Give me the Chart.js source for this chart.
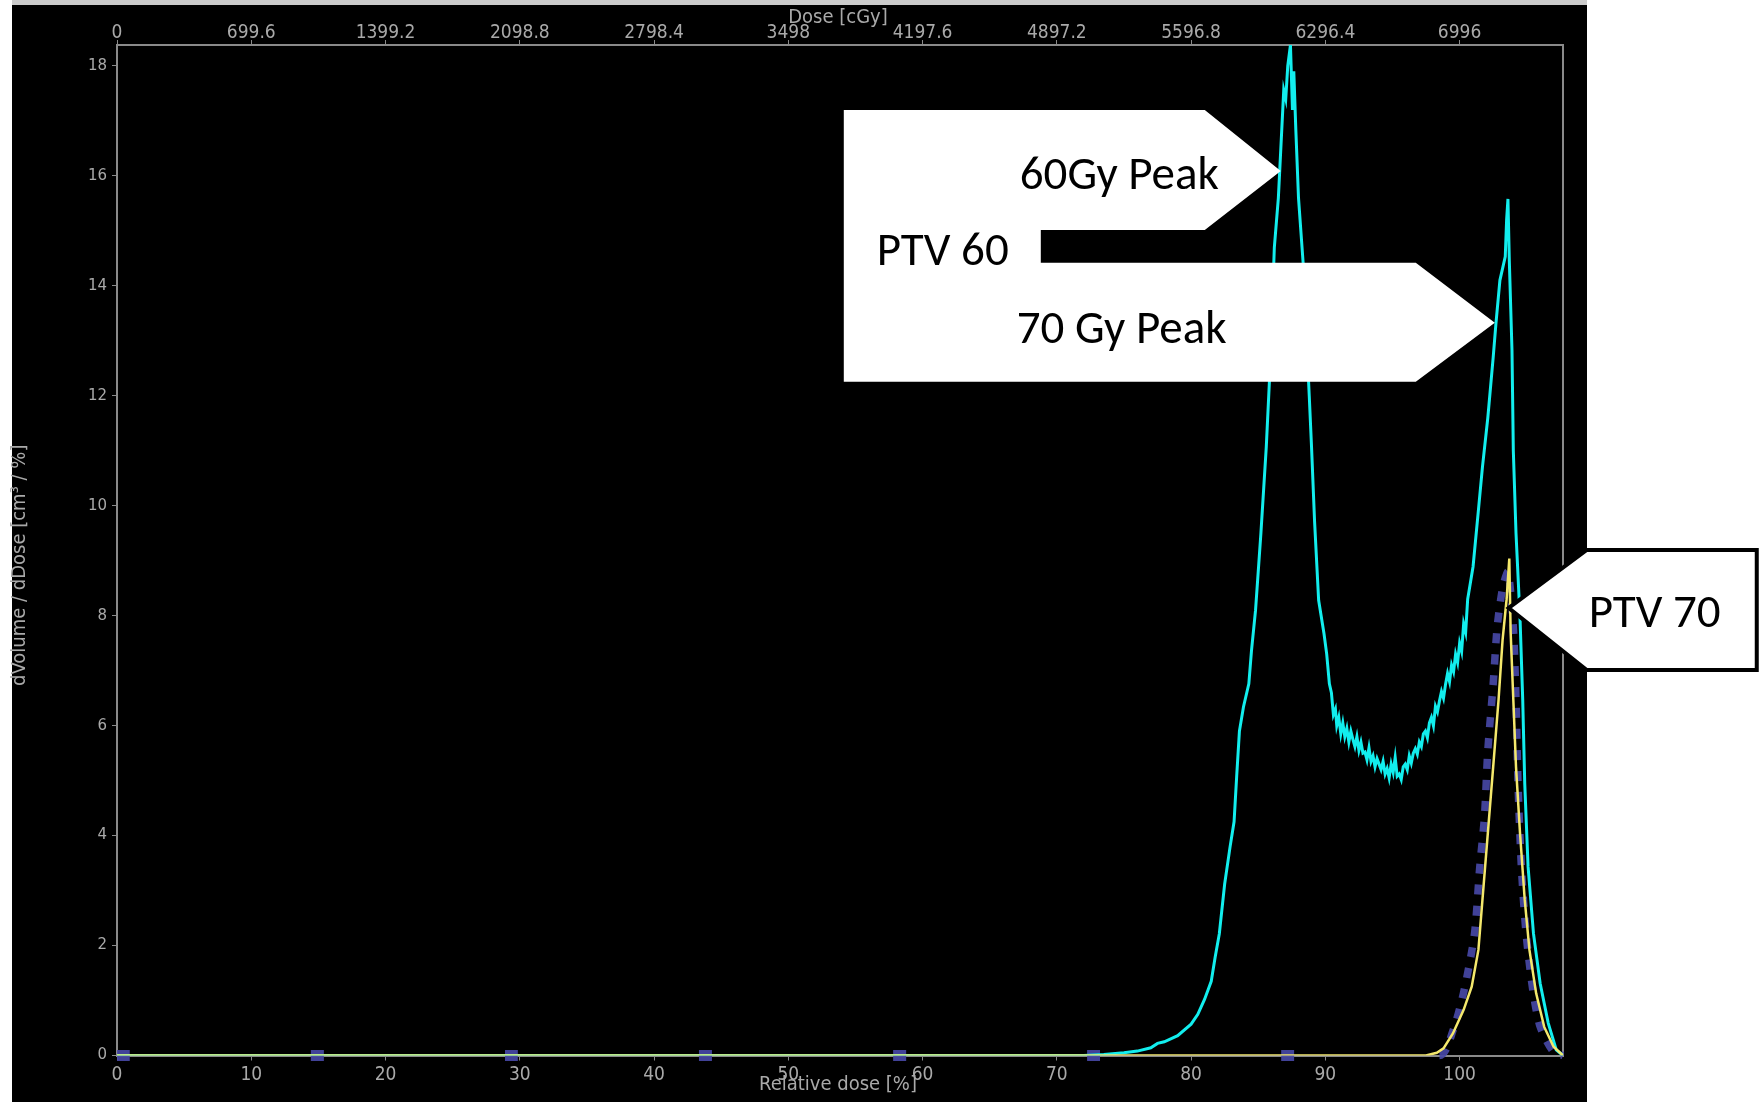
<!DOCTYPE html>
<html>
<head>
<meta charset="utf-8">
<title>dVolume / dDose</title>
<script src="https://cdn.jsdelivr.net/npm/chart.js@4.4.1/dist/chart.umd.min.js"></script>
<style>
    html, body { margin: 0; padding: 0; background: #fff; }
    canvas { display: block; }
</style>
</head>
<body>
<canvas id="dvhChart" width="1762" height="1102"></canvas>
<script>
const relDoseTicks = [0, 10, 20, 30, 40, 50, 60, 70, 80, 90, 100];
const doseTickLabels = ['0', '699.6', '1399.2', '2098.8', '2798.4', '3498', '4197.6', '4897.2', '5596.8', '6296.4', '6996'];
const volumeTicks = [0, 2, 4, 6, 8, 10, 12, 14, 16, 18];

// PTV 60 (cyan)
const ptv60Dose = [
    0, 72, 73.5, 75, 76, 77, 77.5, 78, 79, 80,
    80.5, 81, 81.5, 81.8, 82.1, 82.5, 82.9, 83.2, 83.4, 83.6,
    83.9, 84.3, 84.5, 84.8, 85.2, 85.6, 85.9, 86.2, 86.5, 86.9,
    87.05, 87.2, 87.4, 87.55, 87.65, 87.8, 88.0, 88.35, 88.8, 88.97,
    89.2, 89.5, 89.9, 90.1, 90.3, 90.45, 90.6, 90.75, 90.85, 91.0,
    91.15, 91.3, 91.45, 91.6, 91.75, 91.9, 92.05, 92.2, 92.35, 92.5,
    92.65, 92.8, 92.95, 93.1, 93.25, 93.4, 93.55, 93.7, 93.85, 94.0,
    94.15, 94.3, 94.45, 94.6, 94.75, 94.9, 95.05, 95.2, 95.35, 95.5,
    95.65, 95.8, 95.95, 96.1, 96.25, 96.4, 96.55, 96.7, 96.85, 97.0,
    97.15, 97.3, 97.45, 97.6, 97.75, 97.9, 98.05, 98.2, 98.35, 98.5,
    98.65, 98.8, 98.95, 99.1, 99.25, 99.4, 99.55, 99.7, 99.85, 100.0,
    100.15, 100.3, 100.45, 100.6, 101.0, 101.4, 101.7, 102.1, 102.5, 102.7,
    103.0, 103.4, 103.5, 103.6, 103.7, 103.9, 104.0, 104.2, 104.5, 104.7,
    104.85, 105.1, 105.5, 106.0, 106.6, 107.2, 107.7
];
const ptv60Volume = [
    0, 0, 0.02, 0.05, 0.08, 0.14, 0.22, 0.25, 0.36, 0.57,
    0.75, 1.02, 1.35, 1.8, 2.21, 3.12, 3.79, 4.25, 5.1, 5.9,
    6.34, 6.76, 7.37, 8.1, 9.5, 11.07, 12.6, 14.7, 15.6, 17.56,
    17.4, 18.0, 18.38, 17.2, 17.9, 16.84, 15.6, 14.4, 12.0, 11.07,
    9.7, 8.28, 7.67, 7.3, 6.76, 6.6, 6.2, 6.3, 6.0, 6.15,
    5.85, 6.05, 5.8, 5.95, 5.7, 5.9, 5.75, 5.62, 5.8, 5.55,
    5.7, 5.5, 5.52, 5.38, 5.6, 5.35, 5.45, 5.25, 5.4, 5.3,
    5.2, 5.35, 5.12, 5.22, 5.05, 5.3, 5.15, 5.42, 5.08, 5.12,
    5.02, 5.25, 5.3, 5.2, 5.45, 5.32, 5.5, 5.58, 5.48, 5.7,
    5.62, 5.85, 5.9, 5.78, 6.05, 6.15, 6.0, 6.35, 6.25, 6.45,
    6.62, 6.5, 6.75, 6.95, 6.8, 7.1, 6.98, 7.3, 7.15, 7.5,
    7.35, 7.85, 7.7, 8.3, 8.89, 9.92, 10.7, 11.6, 12.7, 13.3,
    14.1, 14.53, 15.2, 15.58, 14.47, 12.83, 11.0, 9.5, 7.95, 6.47,
    4.95, 3.43, 2.22, 1.31, 0.59, 0.1, 0
];

// PTV 70 (yellow)
const ptv70Dose = [0, 97.5, 98.3, 98.8, 99.5, 100.3, 100.9, 101.4, 101.7, 102.1, 102.5, 102.9, 103.2, 103.5, 103.7, 103.8, 104.0, 104.2, 104.5, 104.85, 105.2, 105.7, 106.3, 107.0, 107.7];
const ptv70Volume = [0, 0, 0.05, 0.13, 0.4, 0.83, 1.25, 1.92, 2.83, 4.04, 5.25, 6.47, 7.56, 8.3, 9.04, 7.7, 6.47, 5.25, 4.04, 2.83, 1.92, 1.13, 0.52, 0.16, 0];

// dashed reference curve (navy)
const refDose = [0, 98.5, 99.5, 100.3, 101.1, 101.5, 101.85, 102.1, 102.5, 102.8, 103.2, 103.6, 104.0, 104.2, 104.35, 104.6, 104.95, 105.45, 106.0, 107.0, 107.7];
const refVolume = [0, 0, 0.45, 1.15, 2.2, 3.43, 4.34, 5.55, 6.76, 7.8, 8.5, 8.8, 7.8, 6.47, 4.95, 3.43, 2.22, 1.19, 0.52, 0.06, 0];

// callout arrow tips in data units
const peak60Tip = { x: 86.68, y: 16.09 };
const peak70Tip = { x: 102.62, y: 13.33 };
const ptv70Tip = { x: 103.66, y: 8.14 };

const toPoints = (xs, ys) => xs.map((x, i) => ({ x, y: ys[i] }));

const axisGray = '#8a8a8a';
const labelGray = '#a9a9a9';
const condensed = "'DejaVu Sans Condensed', 'DejaVu Sans', sans-serif";
const calloutFont = "47px Carlito, Calibri, Lato, sans-serif";

const fixTicks = (values) => (scale) => {
    scale.ticks = values.map((v) => ({ value: v }));
};

const isFlat = (ctx) => ctx.p0.parsed.y === 0 && ctx.p1.parsed.y === 0;

const overlay = {
    id: 'overlay',
    beforeDraw(chart) {
        const { ctx } = chart;
        ctx.save();
        ctx.fillStyle = '#cccccc';
        ctx.fillRect(12, 0, 1575, 5);
        ctx.fillStyle = '#000';
        ctx.fillRect(12, 5, 1575, 1097);
        ctx.restore();
    },
    afterDraw(chart) {
        const { ctx, chartArea, scales } = chart;
        const px = (p) => ({ x: scales.x.getPixelForValue(p.x), y: scales.y.getPixelForValue(p.y) });
        const midX = (chartArea.left + chartArea.right) / 2;
        const midY = (chartArea.top + chartArea.bottom) / 2;

        ctx.save();
        // axis titles
        ctx.fillStyle = labelGray;
        ctx.textAlign = 'center';
        ctx.textBaseline = 'middle';
        ctx.font = `20px ${condensed}`;
        ctx.fillText('Dose [cGy]', midX - 2, 18);
        ctx.fillText('Relative dose [%]', midX - 2, 1085);
        ctx.translate(20, midY + 15);
        ctx.rotate(-Math.PI / 2);
        ctx.fillText('dVolume / dDose [cm³ / %]', 0, 0);
        ctx.restore();

        // PTV 60 callouts (white, no border)
        const a = px(peak60Tip);
        const b = px(peak70Tip);
        const left = b.x - 651;
        const notch = b.x - 454;
        ctx.save();
        ctx.fillStyle = '#fff';
        ctx.beginPath();
        ctx.moveTo(left, a.y - 61);
        ctx.lineTo(a.x - 76, a.y - 61);
        ctx.lineTo(a.x, a.y);
        ctx.lineTo(a.x - 76, a.y + 59);
        ctx.lineTo(notch, a.y + 59);
        ctx.lineTo(notch, b.y - 60);
        ctx.lineTo(b.x - 79, b.y - 60);
        ctx.lineTo(b.x, b.y);
        ctx.lineTo(b.x - 79, b.y + 59);
        ctx.lineTo(left, b.y + 59);
        ctx.closePath();
        ctx.fill();

        // PTV 70 callout (white with black border)
        const c = px(ptv70Tip);
        ctx.beginPath();
        ctx.moveTo(c.x, c.y);
        ctx.lineTo(c.x + 78, c.y - 58);
        ctx.lineTo(c.x + 248, c.y - 58);
        ctx.lineTo(c.x + 248, c.y + 62);
        ctx.lineTo(c.x + 78, c.y + 62);
        ctx.closePath();
        ctx.fill();
        ctx.strokeStyle = '#000';
        ctx.lineWidth = 4;
        ctx.lineJoin = 'miter';
        ctx.stroke();

        ctx.fillStyle = '#000';
        ctx.font = calloutFont;
        ctx.textAlign = 'left';
        ctx.textBaseline = 'alphabetic';
        ctx.fillText('60Gy Peak', a.x - 261, a.y + 18);
        ctx.fillText('PTV 60', b.x - 618, b.y - 58);
        ctx.fillText('70 Gy Peak', b.x - 478, b.y + 20);
        ctx.fillText('PTV 70', c.x + 80, c.y + 19);
        ctx.restore();
    },
};

function initDvhChart() {
    const canvas = document.getElementById('dvhChart');
    if (!canvas) return;

    const xScaleBase = {
        type: 'linear',
        min: 0,
        max: 107.7,
        afterBuildTicks: fixTicks(relDoseTicks),
        grid: { drawOnChartArea: false, drawTicks: true, tickLength: 5, color: axisGray, lineWidth: 1 },
        border: { display: true, color: axisGray, width: 2 },
    };

    new Chart(canvas, {
        type: 'line',
        data: {
            datasets: [
                {
                    label: 'PTV 70',
                    data: toPoints(ptv70Dose, ptv70Volume),
                    borderColor: '#f4e86c',
                    borderWidth: 2.5,
                    pointRadius: 0,
                    tension: 0,
                },
                {
                    label: 'PTV 60',
                    data: toPoints(ptv60Dose, ptv60Volume),
                    borderColor: '#12eeee',
                    borderWidth: 3,
                    pointRadius: 0,
                    tension: 0,
                },
                {
                    label: 'Reference',
                    data: toPoints(refDose, refVolume),
                    borderColor: 'rgba(70, 72, 165, 0.92)',
                    borderWidth: 8,
                    pointRadius: 0,
                    tension: 0.25,
                    clip: 8,
                    segment: {
                        borderDash: (ctx) => (isFlat(ctx) ? [13, 181] : [10, 11]),
                        borderWidth: (ctx) => (isFlat(ctx) ? 11 : 7.5),
                    },
                },
            ],
        },
        options: {
            responsive: false,
            devicePixelRatio: 1,
            animation: false,
            layout: { padding: { left: 0, top: 0, right: 199, bottom: 0 } },
            plugins: {
                legend: { display: false },
                tooltip: { enabled: false },
            },
            scales: {
                x: {
                    ...xScaleBase,
                    position: 'bottom',
                    afterFit: (s) => { s.height = 46.5; },
                    ticks: {
                        color: labelGray,
                        font: { family: condensed, size: 19 },
                        padding: 3,
                        maxRotation: 0,
                        autoSkip: false,
                    },
                },
                x2: {
                    ...xScaleBase,
                    position: 'top',
                    afterFit: (s) => { s.height = 45; },
                    ticks: {
                        color: labelGray,
                        font: { family: condensed, size: 19 },
                        padding: -4,
                        maxRotation: 0,
                        autoSkip: false,
                        callback: (value, index) => doseTickLabels[index],
                    },
                },
                y: {
                    type: 'linear',
                    position: 'left',
                    min: 0,
                    max: 18.38,
                    afterBuildTicks: fixTicks(volumeTicks),
                    afterFit: (s) => { s.width = 117; },
                    grid: { drawOnChartArea: false, drawTicks: true, tickLength: 5, color: axisGray },
                    border: { display: true, color: axisGray, width: 2 },
                    ticks: {
                        color: labelGray,
                        font: { family: "'DejaVu Sans', sans-serif", size: 15 },
                        padding: 5,
                    },
                },
                y2: {
                    type: 'linear',
                    position: 'right',
                    min: 0,
                    max: 18.38,
                    afterFit: (s) => { s.width = 0; },
                    grid: { display: false },
                    border: { display: true, color: axisGray, width: 2 },
                    ticks: { display: false },
                },
            },
        },
        plugins: [overlay],
    });
}

document.addEventListener('DOMContentLoaded', () => {
    initDvhChart();
});
</script>
</body>
</html>
